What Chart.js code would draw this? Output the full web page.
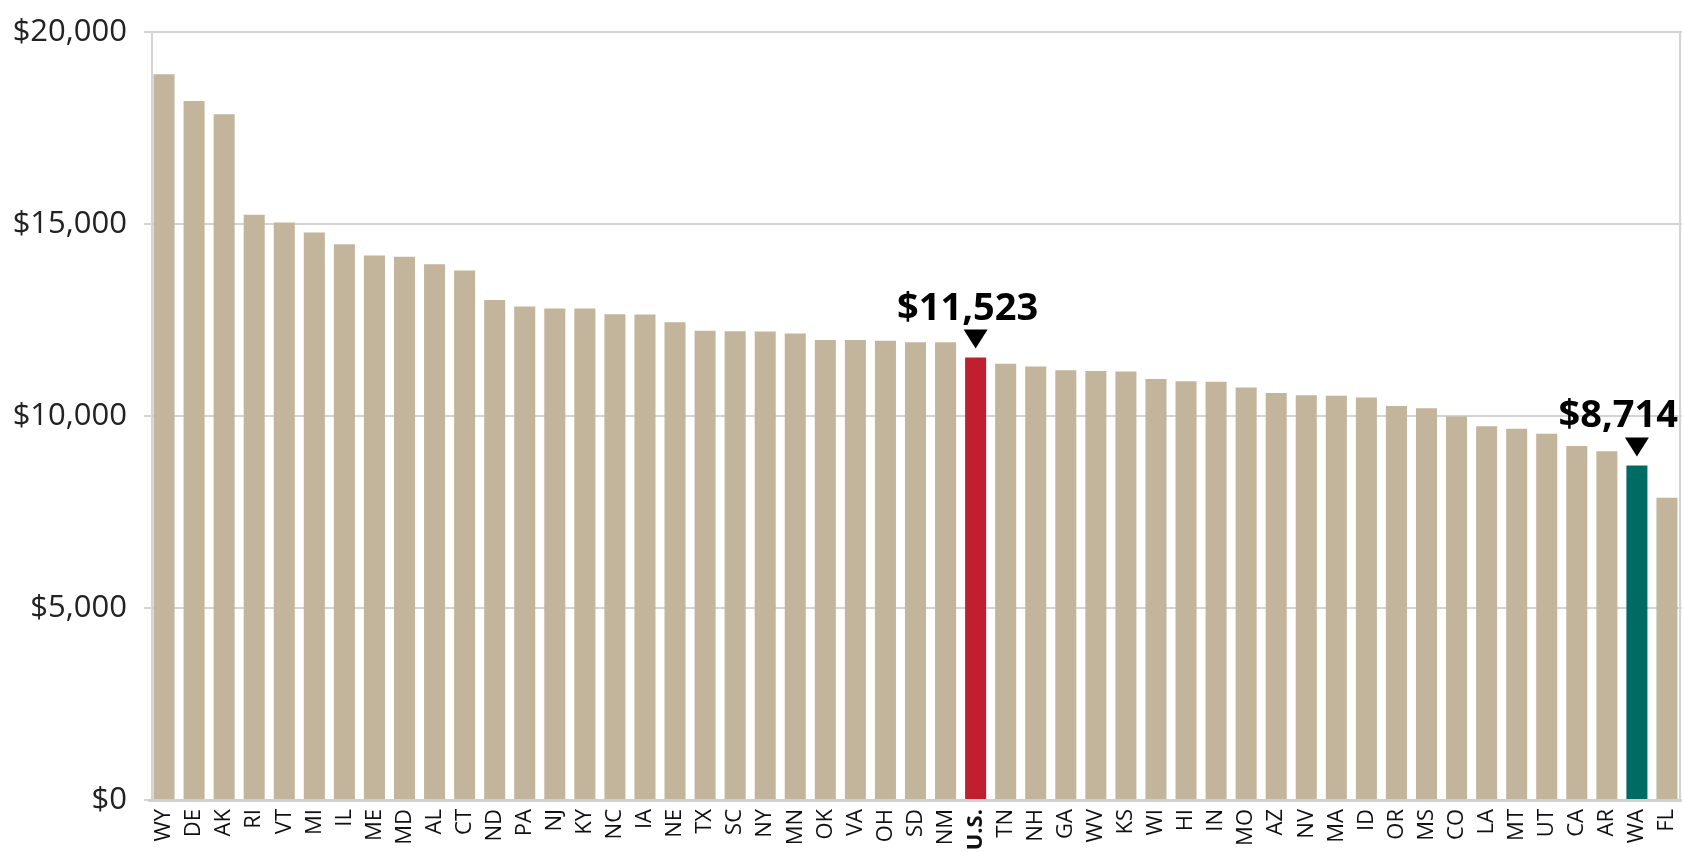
<!DOCTYPE html>
<html>
<head>
<meta charset="utf-8">
<script src="https://cdn.jsdelivr.net/npm/chart.js@4"></script>
<style>
  html, body { margin: 0; padding: 0; background: #fff; }
  #wrap { width: 1682px; height: 852px; position: relative; }
</style>
</head>
<body>
<div id="wrap"><canvas id="spendingChart"></canvas></div>
<script>
const states = ['WY', 'DE', 'AK', 'RI', 'VT', 'MI', 'IL', 'ME', 'MD', 'AL', 'CT', 'ND', 'PA', 'NJ', 'KY', 'NC', 'IA',
  'NE', 'TX', 'SC', 'NY', 'MN', 'OK', 'VA', 'OH', 'SD', 'NM', 'U.S.', 'TN', 'NH', 'GA', 'WV', 'KS', 'WI', 'HI',
  'IN', 'MO', 'AZ', 'NV', 'MA', 'ID', 'OR', 'MS', 'CO', 'LA', 'MT', 'UT', 'CA', 'AR', 'WA', 'FL'];

const spending = [18900, 18200, 17860, 15240, 15040, 14780, 14470, 14180, 14150, 13950, 13790, 13020, 12850,
  12800, 12800, 12650, 12640, 12440, 12220, 12210, 12200, 12150, 11980, 11980, 11960, 11920, 11920, 11523,
  11360, 11290, 11190, 11170, 11160, 10965, 10905, 10895, 10740, 10600, 10540, 10530, 10480, 10260, 10200,
  9990, 9730, 9670, 9540, 9220, 9080, 8714, 7870];

const yTicks = [0, 5000, 10000, 15000, 20000];

const highlightLabels = ['U.S.', 'WA'];
const highlightColors = ['#c01f2f', '#006b62'];
const baseColor = '#c2b59b';

const money = v => '$' + v.toLocaleString('en-US');

const barColors = states.map(s => {
  const i = highlightLabels.indexOf(s);
  return i >= 0 ? highlightColors[i] : baseColor;
});

// left and right frame lines of the plot box
const frame = {
  id: 'frame',
  beforeDatasetsDraw(chart) {
    const { ctx, chartArea } = chart;
    ctx.save();
    ctx.strokeStyle = '#d3d3d3';
    ctx.lineWidth = 2;
    ctx.beginPath();
    ctx.moveTo(chartArea.left + 3, chartArea.top);
    ctx.lineTo(chartArea.left + 3, chartArea.bottom);
    ctx.moveTo(chartArea.right - 2, chartArea.top);
    ctx.lineTo(chartArea.right - 2, chartArea.bottom);
    ctx.stroke();
    ctx.restore();
  }
};

// value callouts with a down arrow above the highlighted bars
const callouts = {
  id: 'callouts',
  afterDatasetsDraw(chart) {
    const { ctx, chartArea } = chart;
    const meta = chart.getDatasetMeta(0);
    ctx.save();
    highlightLabels.forEach(lbl => {
      const i = states.indexOf(lbl);
      const bar = meta.data[i];
      if (!bar) return;
      // arrow
      ctx.fillStyle = '#000';
      ctx.beginPath();
      ctx.moveTo(bar.x - 12, bar.y - 28);
      ctx.lineTo(bar.x + 12, bar.y - 28);
      ctx.lineTo(bar.x, bar.y - 9);
      ctx.closePath();
      ctx.fill();
      // text
      ctx.font = 'bold 38px "Open Sans"';
      ctx.textBaseline = 'alphabetic';
      ctx.textAlign = 'center';
      const txt = money(spending[i]);
      const w = ctx.measureText(txt).width;
      let cx = bar.x - 8;
      if (cx + w / 2 > chartArea.right - 4) cx = chartArea.right - 4 - w / 2;
      ctx.fillText(txt, cx, bar.y - 38);
    });
    ctx.restore();
  }
};

new Chart(document.getElementById('spendingChart'), {
  type: 'bar',
  data: {
    labels: states,
    datasets: [{
      data: spending,
      backgroundColor: barColors,
      borderWidth: 0,
      categoryPercentage: 1,
      barPercentage: 0.7
    }]
  },
  options: {
    responsive: true,
    maintainAspectRatio: false,
    animation: false,
    layout: { padding: { top: 32, left: 0, right: 0, bottom: 0 } },
    plugins: {
      legend: { display: false },
      tooltip: { enabled: false }
    },
    scales: {
      x: {
        grid: { display: false, drawTicks: false },
        border: { display: true, color: '#d0d0d0', width: 3 },
        ticks: {
          autoSkip: false,
          minRotation: 90,
          maxRotation: 90,
          padding: 9,
          color: '#111',
          font: ctx => ({
            family: '"Open Sans"',
            size: 22,
            weight: ctx.tick && ctx.tick.label === 'U.S.' ? 'bold' : 'normal'
          })
        },
        afterFit(scale) {
          scale.height = 52;
          scale.paddingLeft = 0;
          scale.paddingRight = 0;
        }
      },
      y: {
        min: 0,
        max: 20000,
        afterBuildTicks(scale) {
          scale.ticks = yTicks.map(v => ({ value: v }));
        },
        grid: { color: '#d3d3d3', lineWidth: 2, tickLength: 5 },
        border: { display: false },
        ticks: {
          padding: 17,
          color: '#222',
          font: { family: '"Open Sans"', size: 31 },
          callback: v => money(v)
        },
        afterFit(scale) {
          scale.width = 149;
          scale.paddingTop = 0;
          scale.paddingBottom = 0;
        }
      }
    }
  },
  plugins: [frame, callouts]
});
</script>
</body>
</html>
